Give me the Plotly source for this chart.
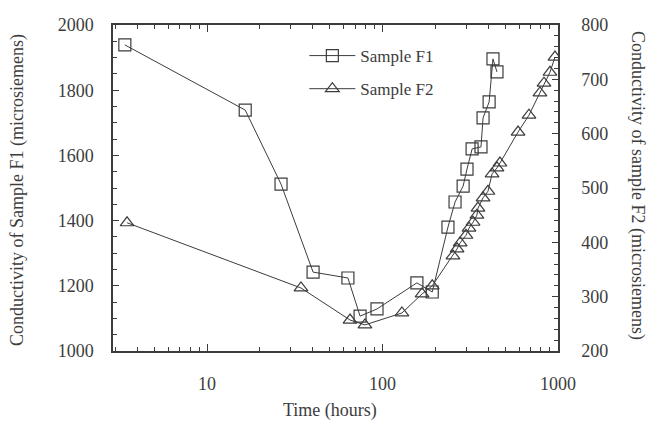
import plotly.graph_objects as go

# Sample F1 (left axis, microsiemens)
f1_time = [3.4, 16.5, 26.4, 40.2, 63.5, 74.5, 93, 157, 192, 236, 259, 288, 303, 324, 364, 374, 405, 426, 449]
f1_cond = [1939, 1739, 1512, 1242, 1224, 1107, 1129, 1209, 1181, 1380, 1457, 1506, 1558, 1620, 1626, 1715, 1764, 1896, 1856]

# Sample F2 (right axis, microsiemens)
f2_time = [3.5, 34.3, 65.3, 79.4, 129, 168, 192, 252, 266, 277, 299, 311, 328, 345, 350, 374, 399, 421, 449, 467, 592, 683, 789, 832, 900, 961]
f2_cond = [436, 316, 257, 248, 270, 305, 320, 375, 388, 399, 413, 426, 437, 450, 463, 482, 494, 526, 537, 546, 603, 634, 675, 693, 713, 741]

x_major = [10, 100, 1000]
x_minor = [3, 4, 5, 6, 7, 8, 9, 20, 30, 40, 50, 60, 70, 80, 90, 200, 300, 400, 500, 600, 700, 800, 900]

INK = "#3c3c3c"
FONT = "Liberation Serif"

fig = go.Figure()
fig.add_trace(go.Scatter(
    x=f1_time, y=f1_cond, name="Sample F1", mode="lines+markers",
    line=dict(color=INK, width=1),
    marker=dict(symbol="square-open", size=12, color=INK, line=dict(width=1.2)),
    legendgroup="a",
))
fig.add_trace(go.Scatter(
    x=f2_time, y=f2_cond, name="Sample F2", mode="lines+markers", yaxis="y2",
    line=dict(color=INK, width=1),
    marker=dict(symbol="triangle-up-open", size=12, color=INK, line=dict(width=1.2)),
    legendgroup="b",
))

axis_common = dict(showline=True, linecolor=INK, linewidth=1.5, showgrid=False, zeroline=False,
                   ticks="inside", tickcolor=INK, tickfont=dict(family=FONT, size=18, color=INK))

fig.update_layout(
    width=648, height=423,
    margin=dict(l=113, r=90, t=25, b=72),
    paper_bgcolor="white", plot_bgcolor="white",
    font=dict(family=FONT, size=18, color=INK),
    xaxis=dict(type="log", range=[0.464, 3.0], tickmode="array", tickvals=x_major,
               ticktext=[str(v) for v in x_major], ticklen=7, mirror="ticks",
               ticklabelstandoff=16,
               minor=dict(tickmode="array", tickvals=x_minor, ticks="inside", ticklen=4,
                          tickcolor=INK, showgrid=False),
               **axis_common),
    yaxis=dict(range=[1000, 2000], tick0=1000, dtick=200, ticklen=6, ticklabelstandoff=14,
               minor=dict(dtick=50, tick0=1000, ticks="inside", ticklen=4, tickcolor=INK, showgrid=False),
               **axis_common),
    yaxis2=dict(range=[200, 800], tick0=200, dtick=100, ticklen=6, overlaying="y", side="right",
                ticklabelstandoff=18,
                minor=dict(dtick=20, tick0=200, ticks="inside", ticklen=4, tickcolor=INK, showgrid=False),
                **axis_common),
    legend=dict(x=0.43, y=0.96, xanchor="left", yanchor="top", bgcolor="rgba(0,0,0,0)",
                itemwidth=46,
                font=dict(family=FONT, size=17, color=INK), tracegroupgap=8),
    showlegend=True,
    annotations=[
        dict(text="Conductivity of Sample F1 (microsiemens)", xref="paper", yref="paper",
             x=-0.2135, y=0.494, xanchor="center", yanchor="middle", showarrow=False, textangle=-90,
             font=dict(family=FONT, size=18, color=INK)),
        dict(text="Conductivity of sample F2 (microsiemens)", xref="paper", yref="paper",
             x=1.18, y=0.509, xanchor="center", yanchor="middle", showarrow=False, textangle=90,
             font=dict(family=FONT, size=18, color=INK)),
        dict(text="Time (hours)", xref="paper", yref="paper",
             x=0.488, y=-0.181, xanchor="center", yanchor="middle", showarrow=False,
             font=dict(family=FONT, size=18, color=INK)),
    ],
)

fig.write_html("out.html")
